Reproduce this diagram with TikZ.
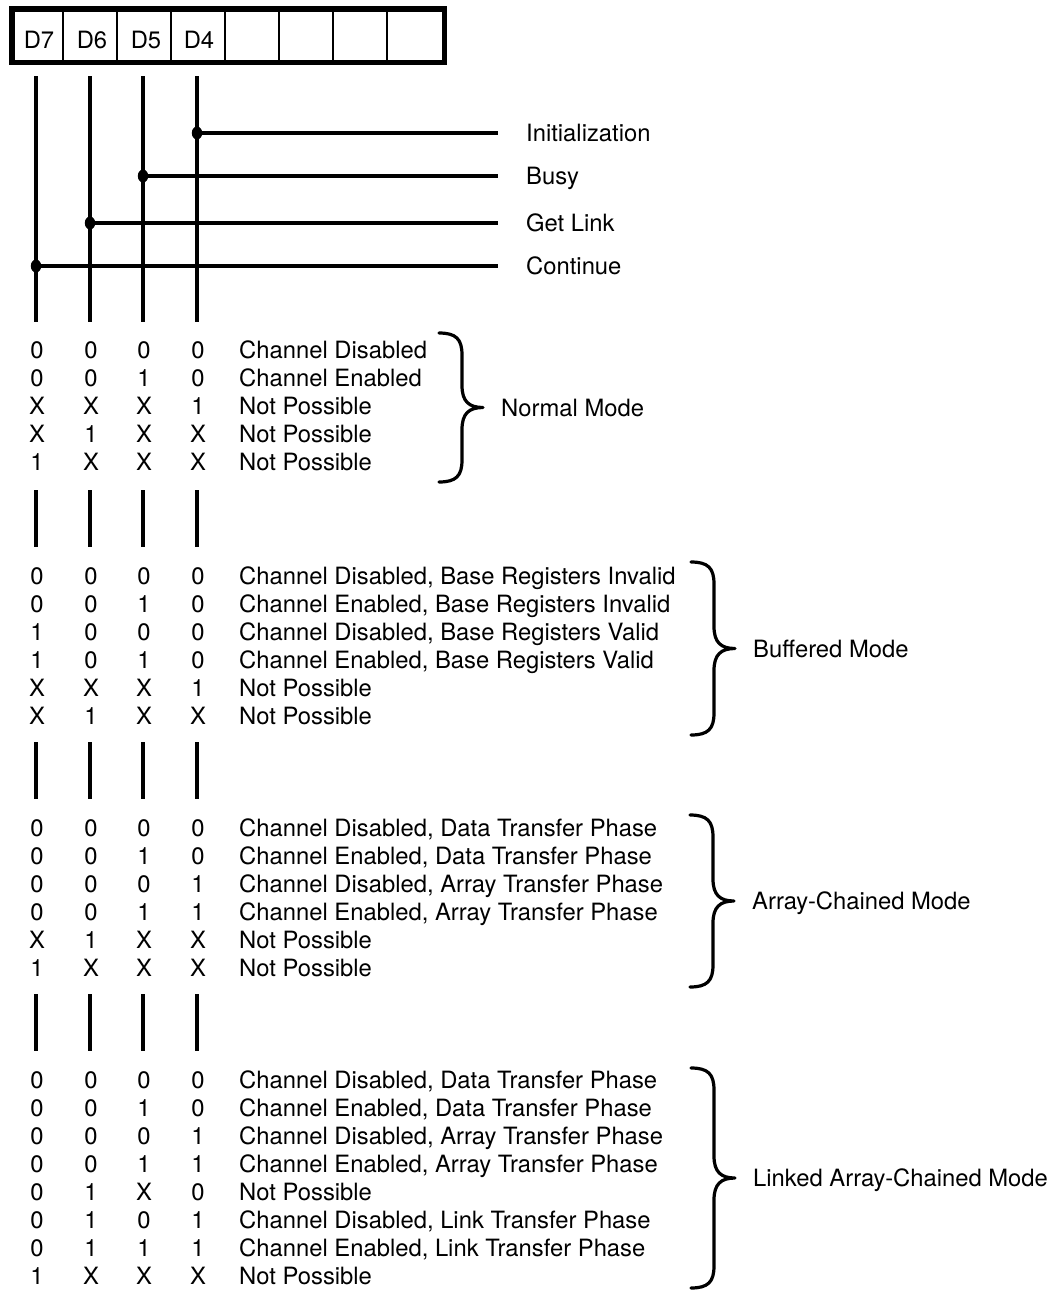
\documentclass[tikz,border=0pt]{standalone}
\usepackage{fontspec}
\setmainfont{TeX Gyre Heros}
% curly brace with the tip pointing right: #1 left x, #2 top y, #3 bottom y, #4 name, #5 label
\newcommand\ModeBrace[5]{%
  \draw[bracestroke] (#1,#2)
    .. controls ({#1+17},#2) and ({#1+23},{#2+6}) .. ({#1+23},{#2+22})
    -- ({#1+23},{(#2+#3)/2-22})
    .. controls ({#1+23},{(#2+#3)/2-6}) and ({#1+30},{(#2+#3)/2}) .. ({#1+44},{(#2+#3)/2})
    coordinate (#4tip)
    .. controls ({#1+30},{(#2+#3)/2}) and ({#1+23},{(#2+#3)/2+6}) .. ({#1+23},{(#2+#3)/2+22})
    -- ({#1+23},{#3-22})
    .. controls ({#1+23},{#3-6}) and ({#1+17},#3) .. (#1,#3);
  \node[desc] (#4) at ({#1+62},{(#2+#3)/2+8.5}) {#5};
}
\begin{document}
\begin{tikzpicture}[x=1pt,y=-1pt,
  txt/.style={font=\fontsize{23.8}{28}\selectfont, inner sep=0pt, text=black},
  bit/.style={txt, anchor=base},
  desc/.style={txt, anchor=base west},
  bus/.style={line width=3.4pt},
  sig/.style={line width=3.4pt},
  frame/.style={line width=5.5pt},
  divider/.style={line width=2pt},
  bracestroke/.style={line width=3.2pt, line join=round, line cap=round},
  tap/.style={fill=black}
]
\useasboundingbox (0,0) rectangle (1052,1291);

% ---- register ----
\coordinate (regNW) at (11.75,8.75);
\coordinate (regSE) at (444.25,62.25);
\foreach \x in {63,117,171,225,279,333,387}
  \draw[divider] (\x,8.75) -- (\x,62.25);
\draw[frame] (regNW) rectangle (regSE);
\foreach \n/\x in {7/39,6/92,5/146,4/199}
  \node[bit] (d\n) at (\x,48.5) {D\n};

% ---- bit columns ----
\foreach \n/\x in {7/36,6/90,5/143,4/197} {
  \foreach \a/\b [count=\k] in {76/322,490/547,742/799,994/1051} {
    \coordinate (c\n top\k) at (\x,\a);
    \coordinate (c\n bot\k) at (\x,\b);
    \draw[bus] (c\n top\k) -- (c\n bot\k);
  }
}

% ---- control bit taps ----
\foreach \n/\x/\y/\lab in {4/197/133/Initialization,5/143/176/Busy,6/90/223/Get Link,7/36/266/Continue} {
  \coordinate (tap\n) at (\x,\y);
  \coordinate (end\n) at (498,\y);
  \draw[sig] (tap\n) -- (end\n);
  \fill[tap] (tap\n) ellipse [x radius=5.2pt, y radius=6.5pt];
  \node[desc] (lab\n) at (526,{\y+8.5}) {\lab};
}

% ---- mode tables ----
\foreach \y/\a/\b/\c/\d/\t [count=\i] in {
  350/0/0/0/0/{Channel Disabled},
  378/0/0/1/0/{Channel Enabled},
  406/X/X/X/1/{Not Possible},
  434/X/1/X/X/{Not Possible},
  462/1/X/X/X/{Not Possible},
  576/0/0/0/0/{Channel Disabled, Base Registers Invalid},
  604/0/0/1/0/{Channel Enabled, Base Registers Invalid},
  632/1/0/0/0/{Channel Disabled, Base Registers Valid},
  660/1/0/1/0/{Channel Enabled, Base Registers Valid},
  688/X/X/X/1/{Not Possible},
  716/X/1/X/X/{Not Possible},
  828/0/0/0/0/{Channel Disabled, Data Transfer Phase},
  856/0/0/1/0/{Channel Enabled, Data Transfer Phase},
  884/0/0/0/1/{Channel Disabled, Array Transfer Phase},
  912/0/0/1/1/{Channel Enabled, Array Transfer Phase},
  940/X/1/X/X/{Not Possible},
  968/1/X/X/X/{Not Possible},
  1080/0/0/0/0/{Channel Disabled, Data Transfer Phase},
  1108/0/0/1/0/{Channel Enabled, Data Transfer Phase},
  1136/0/0/0/1/{Channel Disabled, Array Transfer Phase},
  1164/0/0/1/1/{Channel Enabled, Array Transfer Phase},
  1192/0/1/X/0/{Not Possible},
  1220/0/1/0/1/{Channel Disabled, Link Transfer Phase},
  1248/0/1/1/1/{Channel Enabled, Link Transfer Phase},
  1276/1/X/X/X/{Not Possible}} {
  \node[bit] (r\i b7) at (37,{\y+8.5}) {\a};
  \node[bit] (r\i b6) at (91,{\y+8.5}) {\b};
  \node[bit] (r\i b5) at (144,{\y+8.5}) {\c};
  \node[bit] (r\i b4) at (198,{\y+8.5}) {\d};
  \node[desc] (r\i t) at (239,{\y+8.5}) {\t};
}

% ---- mode braces ----
\ModeBrace{439}{333}{482}{normal}{Normal Mode}
\ModeBrace{691}{562}{735}{buffered}{Buffered Mode}
\ModeBrace{690}{815}{987}{array}{Array-Chained Mode}
\ModeBrace{691}{1068}{1288}{linked}{Linked Array-Chained Mode}
\end{tikzpicture}
\end{document}
